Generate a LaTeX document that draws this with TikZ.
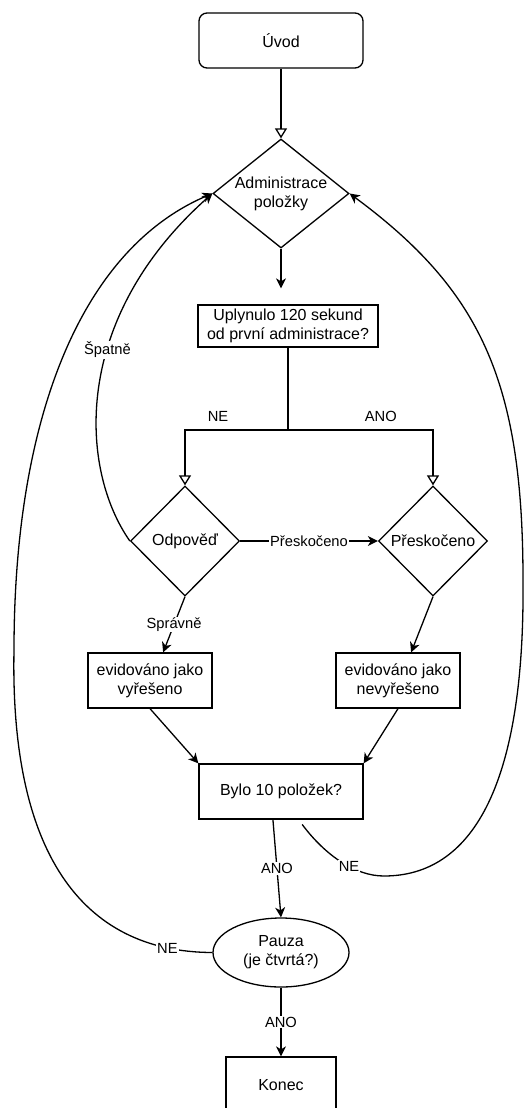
\documentclass[tikz,border=0pt]{standalone}
\usepackage{fontspec}
\setmainfont{Liberation Sans}
\usetikzlibrary{shapes, arrows.meta, positioning, shapes.geometric, calc}

\begin{document}
\begin{tikzpicture}[x=1pt, y=-1pt, line width=1.3pt]
    \tikzstyle{box} = [draw, rectangle, align=center, inner sep=2pt, font=\fontsize{16}{19.2}\selectfont]
    \tikzstyle{decision} = [draw, diamond, align=center, inner sep=0pt, font=\fontsize{16}{19.2}\selectfont]
    \tikzstyle{pause} = [draw, ellipse, align=center, inner sep=1pt, font=\fontsize{16}{19.2}\selectfont]
    \tikzstyle{lbl} = [fill=white, inner sep=1pt, font=\fontsize{14.7}{17}\selectfont]
    \tikzstyle{flow} = [-{Stealth[length=10pt, width=10pt, inset=3pt]}]
    \tikzstyle{branch} = [-{Triangle[open, length=10pt, width=12pt]}]

    \useasboundingbox (0,0) rectangle (530,1108);
    \clip (0,0) rectangle (530,1108);

    \node[box, rounded corners=8pt, minimum width=164pt, minimum height=55pt] (uvod) at (281,40.5) {Úvod};
    \node[decision, shape aspect=1.25, minimum width=136pt, minimum height=109pt] (admin) at (281,193.5) {Administrace\\položky};
    \node[box, minimum width=180pt, minimum height=42pt] (upl) at (288,326) {Uplynulo 120 sekund\\od první administrace?};
    \coordinate (fork) at (288,430);
    \node[decision, minimum width=109pt, minimum height=110pt] (odp) at (185,541) {Odpověď};
    \node[decision, minimum width=109pt, minimum height=110pt] (presk) at (433,541) {Přeskočeno};
    \node[box, minimum width=124pt, minimum height=55pt] (vyr) at (150,680.5) {evidováno jako\\vyřešeno};
    \node[box, minimum width=124pt, minimum height=55pt] (nevyr) at (398,680.5) {evidováno jako\\nevyřešeno};
    \node[box, minimum width=164pt, minimum height=55pt] (bylo) at (281,791.5) {Bylo 10 položek?};
    \node[pause, minimum width=136pt, minimum height=69pt] (pauza) at (281,952.5) {Pauza\\(je čtvrtá?)};
    \node[box, minimum width=110pt, minimum height=56pt] (konec) at (281,1085) {Konec};

    \draw[branch] (uvod) -- (admin);
    \draw[flow, shorten >=16pt] (admin.south) -- (admin.south |- upl.north);
    \draw (upl.south) -- (fork);
    \draw[branch] (fork) -| node[lbl, above=7pt, pos=0.34] {NE} (odp.north);
    \draw[branch] (fork) -| node[lbl, above=7pt, pos=0.32] {ANO} (presk.north);
    \draw[flow] (odp.east) -- node[lbl] {Přeskočeno} (presk.west);
    \draw[flow] (odp.south) -- node[lbl] {Správně} (vyr.65);
    \draw[flow] (presk.south) -- (nevyr.65);
    \draw[flow] (vyr.south) -- (bylo.north west);
    \draw[flow] (nevyr.south) -- (bylo.north east);
    \draw[flow] (bylo.254) -- node[lbl] {ANO} (pauza.north);
    \draw[flow] (pauza.south) -- node[lbl] {ANO} (konec.north);

    % loops back to the item
    \draw[flow] (odp.west) .. controls (80,470) and (70,320) .. node[lbl, pos=0.6] {Špatně} (admin.west);
    \draw[flow] (pauza.west) .. controls (80,952) and (10,850) .. (14,650) node[lbl, pos=0.12] {NE}
        .. controls (14,420) and (80,250) .. (admin.west);
    \draw[flow, shorten <=6pt] (bylo.302) .. controls (325,855) and (355,876) .. (384,876) node[lbl, pos=0.6] {NE}
        .. controls (470,876) and (525,790) .. (523,580)
        .. controls (523,380) and (480,290) .. (admin.east);
\end{tikzpicture}
\end{document}
